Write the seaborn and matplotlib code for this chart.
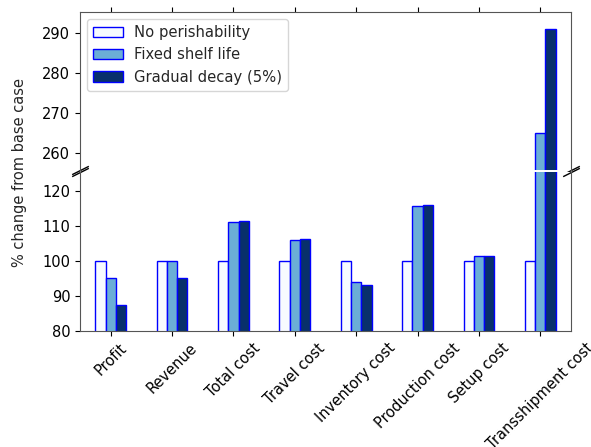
import pandas as pd
import matplotlib
matplotlib.use('Agg')
import matplotlib.pyplot as plt
import seaborn as sns

# Data
metrics = ['Profit', 'Revenue', 'Total cost', 'Travel cost', 'Inventory cost',
           'Production cost', 'Setup cost', 'Transshipment cost']
no_perish = [100, 100, 100, 100, 100, 100, 100, 100]
fixed_shelf = [95.0, 100.0, 111.0, 105.8, 93.9, 115.6, 101.3, 265.2]
gradual_decay = [87.4, 95.0, 111.4, 106.3, 93.0, 115.9, 101.4, 291.0]
scenarios = ['No perishability', 'Fixed shelf life', 'Gradual decay (5%)']
colors = ['#f7fbff', '#6baed6', '#08306b']

df = pd.DataFrame({'Metric': metrics * 3,
                   'Value': no_perish + fixed_shelf + gradual_decay,
                   'Scenario': [s for s in scenarios for _ in metrics]})

sns.set_style('ticks')
plt.rcParams['font.family'] = ['DejaVu Sans']

W, H = 591, 447
fig = plt.figure(figsize=(W / 100, H / 100), dpi=100)
left, right = 80 / W, 571 / W
ax_top = fig.add_axes([left, (H - 170) / H, right - left, 158.3 / H])
ax_bot = fig.add_axes([left, (H - 330.7) / H, right - left, 158.7 / H])

for ax in (ax_top, ax_bot):
    sns.barplot(data=df, x='Metric', y='Value', hue='Scenario', palette=colors,
                width=0.5, edgecolor='blue', linewidth=1, saturation=1,
                ax=ax, legend=(ax is ax_top), errorbar=None)
    ax.set_xlabel('')
    ax.set_ylabel('')
    ax.set_xlim(-0.5, len(metrics) - 0.5)
    for sp in ax.spines.values():
        sp.set_color('#555555')
    ax.tick_params(colors='black', labelsize=10.5)

ax_top.set_ylim(255.9, 295.2)
ax_bot.set_ylim(80, 125.3)
ax_top.set_yticks([260, 270, 280, 290])
ax_bot.set_yticks([80, 90, 100, 110, 120])

ax_top.spines['bottom'].set_visible(False)
ax_bot.spines['top'].set_visible(False)
ax_top.xaxis.tick_top()
ax_top.tick_params(labeltop=False)
ax_bot.xaxis.tick_bottom()
ax_bot.tick_params(axis='x', labelrotation=45)

# break marks
d = 0.5
kw = dict(marker=[(-1, -d), (1, d)], markersize=12, linestyle='none',
          color='k', mec='k', mew=1, clip_on=False)
ax_top.plot([0, 1], [0, 0], transform=ax_top.transAxes, **kw)
ax_bot.plot([0, 1], [1, 1], transform=ax_bot.transAxes, **kw)

ax_top.legend(loc='upper left', fontsize=10.6)

fig.text(20 / W, 1 - 172.5 / H, '% change from base case', rotation=90,
         ha='center', va='center', fontsize=10.5)

fig.savefig('out.png', dpi=100)
